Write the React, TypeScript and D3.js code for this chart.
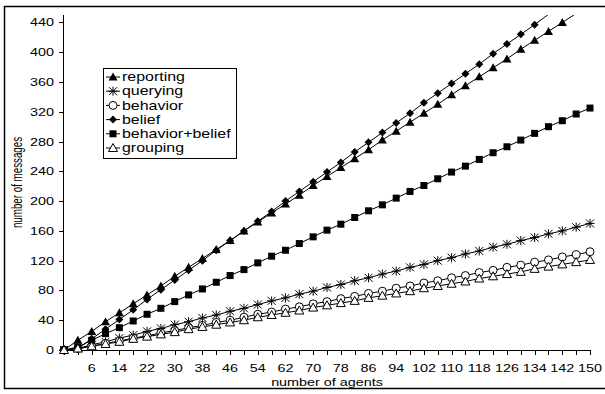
import * as d3 from 'd3';
import type { ReactNode } from 'react';

// number of agents; first category carries no label
const agents = [
  0, 2, 6, 10, 14, 18, 22, 26, 30, 34, 38, 42, 46, 50, 54, 58, 62, 66, 70, 74,
  78, 82, 86, 90, 94, 98, 102, 106, 110, 114, 118, 122, 126, 130, 134, 138,
  142, 146, 150,
];
const xTickLabels = [
  6, 14, 22, 30, 38, 46, 54, 62, 70, 78, 86, 94, 102, 110, 118, 126, 134, 142,
  150,
];
const yTicks = [0, 40, 80, 120, 160, 200, 240, 280, 320, 360, 400, 440];

const reporting = [
  0, 13, 25, 38, 50, 62, 74, 86, 99, 111, 123, 135, 147, 160, 172, 184, 196,
  208, 221, 233, 245, 257, 269, 282, 294, 306, 318, 330, 343, 355, 367, 379,
  391, 404, 416, 428, 440, 452, 465,
];
const querying = [
  0, 2, 7, 11, 16, 20, 25, 29, 34, 38, 43, 47, 52, 56, 61, 66, 70, 75, 79, 84,
  88, 93, 97, 102, 106, 111, 115, 120, 124, 129, 133, 138, 142, 147, 151, 156,
  160, 165, 170,
];
const behavior = [
  0, 2, 5, 9, 12, 16, 19, 23, 26, 30, 33, 37, 40, 44, 48, 51, 55, 58, 62, 65,
  69, 72, 76, 79, 83, 86, 90, 93, 97, 100, 104, 107, 111, 114, 118, 121, 125,
  128, 132,
];
const belief = [
  0, 2, 15, 28, 41, 54, 68, 81, 94, 107, 120, 134, 147, 160, 173, 186, 200,
  213, 226, 239, 252, 266, 279, 292, 305, 318, 332, 345, 358, 371, 384, 398,
  411, 424, 437, 451, 464, 477, 490,
];
const behaviorBelief = [
  0, 4, 13, 22, 30, 39, 48, 56, 65, 74, 82, 91, 100, 108, 117, 126, 134, 143,
  152, 161, 169, 178, 187, 195, 204, 213, 221, 230, 239, 247, 256, 265, 273,
  282, 291, 300, 308, 317, 325,
];
const grouping = [
  0, 2, 5, 8, 11, 15, 18, 21, 24, 28, 31, 34, 37, 40, 44, 47, 50, 53, 57, 60,
  63, 66, 70, 73, 76, 79, 83, 86, 89, 92, 96, 99, 102, 105, 109, 112, 115, 118,
  121,
];

type Marker = 'triFill' | 'star' | 'circle' | 'diamond' | 'square' | 'triOpen';

const series: { name: string; values: number[]; marker: Marker }[] = [
  { name: 'reporting', values: reporting, marker: 'triFill' },
  { name: 'querying', values: querying, marker: 'star' },
  { name: 'behavior', values: behavior, marker: 'circle' },
  { name: 'belief', values: belief, marker: 'diamond' },
  { name: 'behavior+belief', values: behaviorBelief, marker: 'square' },
  { name: 'grouping', values: grouping, marker: 'triOpen' },
];

const W = 605;
const H = 394;
const FONT = 'Arial, "Liberation Sans", sans-serif';
const FS = 11.5;
const STRETCH = 1.25; // the original picture is wider than it is tall

// text drawn a little wider than tall, like the source image
function Label({
  x,
  y,
  anchor = 'start',
  size = FS,
  sx = STRETCH,
  children,
}: {
  x: number;
  y: number;
  anchor?: 'start' | 'middle' | 'end';
  size?: number;
  sx?: number;
  children: ReactNode;
}) {
  return (
    <text
      transform={`translate(${x},${y}) scale(${sx},1)`}
      dy='0.35em'
      textAnchor={anchor}
      fontSize={size}
    >
      {children}
    </text>
  );
}

function MarkerShape({ kind, x, y }: { kind: Marker; x: number; y: number }) {
  const t = `translate(${x},${y})`;
  switch (kind) {
    case 'triFill':
      return <path transform={t} d='M0,-4.5L4.5,3.5L-4.5,3.5Z' fill='#000' />;
    case 'triOpen':
      return (
        <path
          transform={t}
          d='M0,-4.5L4.5,3.5L-4.5,3.5Z'
          fill='#fff'
          stroke='#000'
          strokeWidth={1}
        />
      );
    case 'circle':
      return <circle cx={x} cy={y} r={4} fill='#fff' stroke='#000' strokeWidth={1} />;
    case 'diamond':
      return <path transform={t} d='M0,-4L4,0L0,4L-4,0Z' fill='#000' />;
    case 'square':
      return <rect x={x - 3.5} y={y - 3.5} width={7} height={7} fill='#000' />;
    case 'star':
      return (
        <path
          transform={t}
          d='M-4,-4L4,4M-4,4L4,-4M0,-4.5L0,4.5M-4.5,0L4.5,0'
          stroke='#000'
          strokeWidth={1}
        />
      );
  }
}

export default function App() {
  const x = d3
    .scalePoint<number>()
    .domain(agents.map((_, i) => i))
    .range([64, 590]);
  const y = d3.scaleLinear().domain([0, 450]).range([350, 15]);

  const line = d3
    .line<number>()
    .x((_, i) => x(i)!)
    .y((d) => y(d));

  const [x0, x1] = x.range();
  const [yb, yt] = y.range();

  return (
    <svg
      width={W}
      height={H}
      style={{ position: 'absolute', left: 0, top: 0, background: '#fff' }}
      fontFamily={FONT}
    >
      <defs>
        <clipPath id='plot'>
          <rect x={x0} y={yt} width={x1 - x0 + 1} height={yb - yt} />
        </clipPath>
      </defs>
      <rect x={4.5} y={6.5} width={620} height={382} fill='#fff' stroke='#000' strokeWidth={1.5} />

      {/* axes */}
      <line x1={x0 - 0.5} x2={x0 - 0.5} y1={yt} y2={yb} stroke='#000' />
      <line x1={x0 - 0.5} x2={x1} y1={yb + 0.5} y2={yb + 0.5} stroke='#000' />
      {yTicks.map((v) => (
        <g key={v}>
          <line x1={x0 - 5} x2={x0} y1={Math.round(y(v)) + 0.5} y2={Math.round(y(v)) + 0.5} stroke='#000' />
          <Label x={x0 - 10} y={y(v)} anchor='end'>
            {v}
          </Label>
        </g>
      ))}
      {agents.map((a, i) => (
        <line
          key={a}
          x1={Math.round(x(i)!) + 0.5}
          x2={Math.round(x(i)!) + 0.5}
          y1={yb}
          y2={yb + 5}
          stroke='#000'
        />
      ))}
      {xTickLabels.map((lab) => (
        <Label key={lab} x={x(agents.indexOf(lab))!} y={368} anchor='middle'>
          {lab}
        </Label>
      ))}
      <Label x={(x0 + x1) / 2} y={382} anchor='middle'>
        number of agents
      </Label>
      <text
        transform={`translate(17,${(yt + yb) / 2}) rotate(-90) scale(0.85,${STRETCH})`}
        dy='0.35em'
        textAnchor='middle'
        fontSize={FS}
      >
        number of messages
      </text>

      {/* series */}
      <g clipPath='url(#plot)'>
        {series.map((s) => (
          <path key={s.name} d={line(s.values) ?? ''} fill='none' stroke='#000' strokeWidth={1} />
        ))}
      </g>
      {series.map((s) =>
        s.values.map((v, i) =>
          v <= 450 ? (
            <MarkerShape key={`${s.name}-${i}`} kind={s.marker} x={x(i)!} y={y(v)} />
          ) : null,
        ),
      )}

      {/* legend */}
      <g>
        <rect x={103.5} y={68.5} width={133} height={90} fill='#fff' stroke='#000' strokeWidth={1} />
        {series.map((s, i) => {
          const ly = 77 + i * 14.2;
          return (
            <g key={s.name}>
              <line x1={106} x2={120} y1={ly} y2={ly} stroke='#000' />
              <MarkerShape kind={s.marker} x={113} y={ly} />
              <Label x={122} y={ly} size={12} sx={1.33}>
                {s.name}
              </Label>
            </g>
          );
        })}
      </g>
    </svg>
  );
}
